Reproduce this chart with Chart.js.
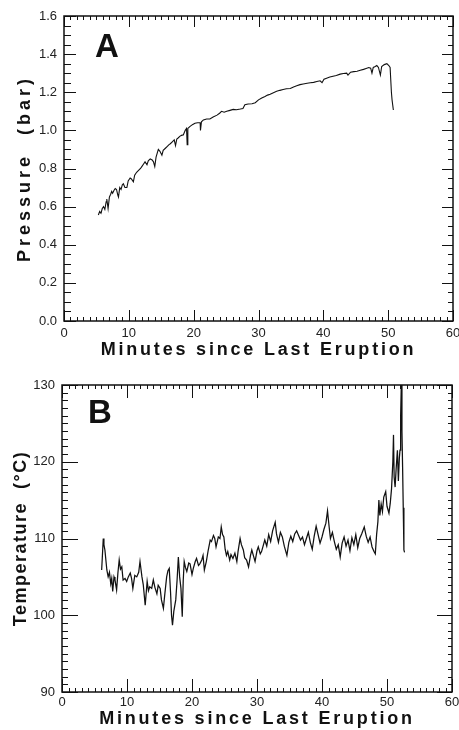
<!DOCTYPE html>
<html>
<head>
<meta charset="utf-8">
<script src="https://cdn.jsdelivr.net/npm/chart.js@4.4.1/dist/chart.umd.min.js"></script>
<style>
  html, body { margin: 0; padding: 0; background: #fff; }
  canvas { display: block; }
</style>
</head>
<body>
<canvas id="chartA" width="459" height="365"></canvas>
<canvas id="chartB" width="459" height="365"></canvas>
<script>
// ---------- DATA ----------
const xTickLabels = [0, 10, 20, 30, 40, 50, 60];
const pressureTickLabels = [0.0, 0.2, 0.4, 0.6, 0.8, 1.0, 1.2, 1.4, 1.6];
const temperatureTickLabels = [90, 100, 110, 120, 130];

const pressureMinutes = [
  5.3, 5.5, 5.7, 5.9, 6.1, 6.3, 6.5, 6.6, 6.8, 7.0, 7.2, 7.35, 7.5, 7.7, 7.9, 8.1, 8.3, 8.4, 8.6, 8.8,
  9.0, 9.15, 9.4, 9.7, 9.9, 10.2, 10.4, 10.7, 10.9, 11.2, 11.5, 11.8, 12.0, 12.3, 12.5, 12.8, 13.0, 13.3, 13.6, 13.8,
  14.0, 14.2, 14.55, 14.8, 15.1, 15.3, 15.6, 15.9, 16.2, 16.4, 16.7, 17.0, 17.2, 17.4, 17.6, 17.9, 18.2, 18.4, 18.7, 18.9,
  19.0, 19.1, 19.4, 19.8, 20.2, 20.6, 21.0, 21.05, 21.2, 21.5, 22.0, 22.5, 23.0, 23.6, 24.0, 24.3, 24.7, 25.1, 25.6, 26.1,
  26.6, 27.2, 27.6, 27.9, 28.4, 29.0, 29.5, 30.0, 30.5, 31.0, 31.4, 31.8, 32.3, 32.8, 33.3, 33.8, 34.3, 34.9, 35.4, 35.9,
  36.4, 36.9, 37.5, 38.0, 38.5, 39.0, 39.5, 39.8, 40.1, 40.5, 41.0, 41.5, 42.0, 42.6, 43.1, 43.6, 43.8, 44.2, 44.7, 45.2,
  45.7, 46.2, 46.6, 47.0, 47.3, 47.5, 47.7, 48.0, 48.25, 48.5, 48.8, 49.0, 49.4, 49.8, 50.1, 50.3, 50.5, 50.6, 50.8
];
const pressureBar = [
  0.556, 0.575, 0.565, 0.59, 0.60, 0.585, 0.625, 0.64, 0.59, 0.65, 0.665, 0.68, 0.67, 0.685, 0.695, 0.69, 0.66, 0.65, 0.70, 0.69,
  0.715, 0.72, 0.70, 0.70, 0.735, 0.75, 0.745, 0.73, 0.765, 0.78, 0.79, 0.80, 0.81, 0.825, 0.835, 0.82, 0.84, 0.85, 0.845, 0.835,
  0.81, 0.86, 0.90, 0.89, 0.87, 0.895, 0.905, 0.915, 0.925, 0.93, 0.94, 0.95, 0.92, 0.955, 0.96, 0.97, 0.975, 0.976, 1.00, 1.01,
  0.925, 1.01, 1.02, 1.03, 1.037, 1.04, 1.04, 1.00, 1.045, 1.055, 1.06, 1.06, 1.07, 1.08, 1.09, 1.10, 1.095, 1.10, 1.105, 1.11,
  1.108, 1.112, 1.115, 1.135, 1.138, 1.14, 1.145, 1.16, 1.17, 1.178, 1.185, 1.19, 1.198, 1.205, 1.21, 1.214, 1.218, 1.22, 1.228, 1.234,
  1.24, 1.243, 1.247, 1.25, 1.252, 1.256, 1.26, 1.25, 1.268, 1.274, 1.28, 1.284, 1.288, 1.295, 1.298, 1.30, 1.29, 1.305, 1.308, 1.31,
  1.315, 1.32, 1.325, 1.33, 1.326, 1.30, 1.33, 1.335, 1.34, 1.33, 1.29, 1.335, 1.345, 1.35, 1.34, 1.33, 1.20, 1.16, 1.107
];

const temperatureMinutes = [
  6.1, 6.2, 6.35, 6.45, 6.6, 6.9, 7.1, 7.3, 7.5, 7.65, 7.8, 8.0, 8.15, 8.4, 8.6, 8.8, 9.0, 9.2, 9.4, 9.7,
  9.95, 10.2, 10.5, 10.7, 10.9, 11.2, 11.5, 11.8, 12.0, 12.3, 12.5, 12.8, 13.1, 13.3, 13.5, 13.8, 14.05, 14.3, 14.6, 14.8,
  15.1, 15.3, 15.6, 15.8, 16.1, 16.3, 16.5, 16.7, 16.85, 17.0, 17.2, 17.5, 17.7, 17.9, 18.1, 18.3, 18.5, 18.65, 18.8, 19.0,
  19.2, 19.5, 19.7, 20.0, 20.2, 20.5, 20.7, 21.0, 21.2, 21.5, 21.7, 21.9, 22.2, 22.5, 22.8, 23.0, 23.3, 23.5, 23.7, 24.05,
  24.3, 24.5, 24.7, 24.9, 25.1, 25.3, 25.5, 25.8, 26.0, 26.3, 26.6, 26.9, 27.1, 27.4, 27.6, 27.9, 28.1, 28.4, 28.7, 29.0,
  29.2, 29.5, 29.7, 30.0, 30.2, 30.5, 30.7, 31.0, 31.2, 31.5, 31.8, 32.1, 32.4, 32.8, 33.0, 33.3, 33.6, 33.9, 34.2, 34.6,
  34.9, 35.2, 35.5, 35.8, 36.1, 36.4, 36.7, 37.0, 37.3, 37.6, 37.9, 38.2, 38.5, 38.8, 39.1, 39.4, 39.7, 40.0, 40.3, 40.6,
  40.85, 41.1, 41.3, 41.6, 41.9, 42.2, 42.5, 42.8, 43.1, 43.4, 43.7, 44.0, 44.3, 44.6, 44.9, 45.2, 45.5, 45.8, 46.1, 46.5,
  46.8, 47.1, 47.4, 47.7, 48.0, 48.2, 48.4, 48.6, 48.75, 48.9, 49.1, 49.3, 49.5, 49.8, 50.0, 50.3, 50.5, 50.7, 50.9, 51.0,
  51.1, 51.25, 51.4, 51.6, 51.75, 51.9, 52.0, 52.1, 52.2, 52.3, 52.4, 52.5, 52.6, 52.7
];
const temperatureC = [
  105.9, 107.5, 110.0, 109.2, 108.5, 105.9, 105.0, 105.6, 104.1, 104.8, 103.1, 105.0, 104.6, 103.3, 105.5, 107.2, 106.0, 106.3, 104.6, 104.8,
  104.4, 105.0, 105.5, 104.8, 103.5, 105.2, 105.0, 105.6, 107.0, 105.0, 104.0, 101.3, 104.4, 103.2, 103.7, 103.5, 104.6, 103.6, 102.8, 103.9,
  103.5, 102.0, 100.9, 102.6, 105.0, 105.8, 106.1, 103.0, 100.0, 98.7, 100.5, 102.0, 104.5, 107.6, 105.0, 103.5, 99.8, 104.5, 107.0, 106.2,
  105.7, 106.8, 106.7, 105.3, 106.1, 107.0, 107.4, 106.5, 106.7, 107.2, 107.8, 105.9, 107.0, 108.5, 109.8, 109.6, 110.4, 110.0, 108.9, 110.2,
  110.0, 111.5, 110.5, 110.2, 108.6, 107.8, 108.3, 107.2, 107.9, 107.4, 108.1, 107.0, 108.4, 110.0, 109.2, 108.5, 107.5, 107.2, 106.3, 107.8,
  108.5, 107.6, 107.0, 108.4, 108.9, 108.0, 108.3, 109.2, 109.8, 109.0, 110.5, 109.6, 111.0, 112.1, 110.6, 109.5, 110.8, 110.2, 109.0, 107.8,
  109.5, 110.3, 109.6, 110.6, 111.0, 110.4, 109.8, 110.2, 109.2, 110.0, 110.8, 109.5, 108.6, 110.3, 111.6, 110.5, 109.4, 110.2, 111.2, 112.0,
  113.6, 111.5, 110.0, 110.8, 109.6, 108.6, 109.2, 107.6, 109.4, 110.2, 109.0, 109.8, 108.4, 110.1, 109.2, 110.5, 108.8, 110.0, 110.6, 111.5,
  110.3, 109.5, 110.2, 108.9, 108.3, 108.0, 110.5, 112.2, 115.0, 113.0, 114.5, 113.5, 115.4, 116.1, 114.2, 113.3, 114.6, 116.5, 120.0, 123.5,
  118.0, 116.7, 119.0, 121.5, 117.5, 120.5, 121.5, 126.0, 130.0, 124.0, 119.3, 114.0, 108.5, 108.2
];

// ---------- STYLE / PLUGIN ----------
const FONT = '"Liberation Sans", Arial, Helvetica, sans-serif';

const framePlugin = {
  id: 'frameTicks',
  beforeDraw(chart, args, opts) {
    // letter spacing for axis titles
    Object.values(chart.scales).forEach(s => {
      if (!s._lsPatched) {
        const orig = s.drawTitle;
        const sp = (opts.titleSpacing || {})[s.id] || '0px';
        s.drawTitle = function () {
          const c = this.ctx;
          c.save();
          c.letterSpacing = sp;
          orig.apply(this, arguments);
          c.restore();
        };
        s._lsPatched = true;
      }
    });
  },
  afterDatasetsDraw(chart, args, opts) {
    const {ctx, chartArea: {left, right, top, bottom}, scales: {x, y}} = chart;
    ctx.save();
    ctx.strokeStyle = '#111';
    ctx.lineWidth = 1;
    const seg = (x1, y1, x2, y2) => { ctx.beginPath(); ctx.moveTo(x1, y1); ctx.lineTo(x2, y2); ctx.stroke(); };
    // x ticks (bottom and top, pointing inward)
    let n = Math.round((x.max - x.min) / opts.xMinor);
    let ratio = Math.round(opts.xMajor / opts.xMinor);
    for (let i = 0; i <= n; i++) {
      const px = Math.round(x.getPixelForValue(x.min + i * opts.xMinor)) + 0.5;
      const len = (i % ratio === 0) ? opts.xMajorLen : opts.xMinorLen;
      seg(px, bottom, px, bottom - len);
      seg(px, top, px, top + len);
    }
    // y ticks (left and right, pointing inward)
    n = Math.round((y.max - y.min) / opts.yMinor);
    ratio = Math.round(opts.yMajor / opts.yMinor);
    for (let i = 0; i <= n; i++) {
      const py = Math.round(y.getPixelForValue(y.min + i * opts.yMinor)) + 0.5;
      const major = (i % ratio === 0);
      seg(left, py, left + (major ? opts.yMajorLen : opts.yMinorLen), py);
      seg(right, py, right - (major ? opts.yMajorLen - 1 : opts.yMinorLen - 2), py);
    }
    // frame
    ctx.lineWidth = 1.5;
    ctx.strokeRect(left, top, right - left, bottom - top);
    // panel letter
    ctx.fillStyle = '#111';
    ctx.font = 'bold 33px ' + FONT;
    ctx.textAlign = 'left';
    ctx.textBaseline = 'alphabetic';
    ctx.fillText(opts.letter, left + opts.letterDx, top + opts.letterDy);
    ctx.restore();
  }
};

function makeChart(id, cfg) {
  const fixAxis = (w, h) => s => {
    if (w !== null) s.width = w;
    if (h !== null) s.height = h;
    s.paddingLeft = 0; s.paddingRight = 0; s.paddingTop = 0; s.paddingBottom = 0;
  };
  return new Chart(document.getElementById(id), {
    type: 'line',
    data: {
      datasets: [{
        data: cfg.xs.map((m, i) => ({x: m, y: cfg.ys[i]})),
        borderColor: '#111',
        borderWidth: cfg.lineWidth,
        pointRadius: 0,
        tension: 0,
        fill: false
      }]
    },
    options: {
      responsive: false,
      animation: false,
      devicePixelRatio: 1,
      layout: {padding: cfg.padding},
      plugins: {
        legend: {display: false},
        tooltip: {enabled: false},
        frameTicks: cfg.frame
      },
      scales: {
        x: {
          type: 'linear',
          min: xTickLabels[0],
          max: xTickLabels[xTickLabels.length - 1],
          afterBuildTicks: s => { s.ticks = xTickLabels.map(v => ({value: v})); },
          grid: {display: false, drawTicks: false},
          border: {display: false},
          ticks: {
            color: '#222',
            padding: cfg.xTickPad,
            maxRotation: 0,
            font: {family: FONT, size: 13},
            callback: v => String(v)
          },
          title: {
            display: true,
            text: 'Minutes since Last Eruption',
            color: '#111',
            font: {family: FONT, size: 18, weight: 'bold', lineHeight: 1.2},
            padding: {top: 0, bottom: cfg.xTitlePad}
          },
          afterFit: fixAxis(null, cfg.xHeight)
        },
        y: {
          type: 'linear',
          min: cfg.yTicks[0],
          max: cfg.yTicks[cfg.yTicks.length - 1],
          afterBuildTicks: s => { s.ticks = cfg.yTicks.map(v => ({value: v})); },
          grid: {display: false, drawTicks: false},
          border: {display: false},
          ticks: {
            color: '#222',
            padding: 7,
            font: {family: FONT, size: 13},
            callback: cfg.yFormat
          },
          title: {
            display: true,
            text: cfg.yTitle,
            color: '#111',
            font: {family: FONT, size: 18, weight: 'bold', lineHeight: 1.2},
            padding: {top: cfg.yTitlePad, bottom: 0}
          },
          afterFit: fixAxis(cfg.yWidth, null)
        }
      }
    },
    plugins: [framePlugin]
  });
}

makeChart('chartA', {
  xs: pressureMinutes,
  ys: pressureBar,
  yTicks: pressureTickLabels,
  yFormat: v => Number(v).toFixed(1),
  yTitle: 'Pressure  (bar)',
  padding: {top: 16, right: 6, left: 0, bottom: 0},
  yWidth: 64,
  xHeight: 44,
  xTickPad: 5,
  xTitlePad: 4,
  yTitlePad: 14,
  lineWidth: 1.1,
  frame: {
    xMinor: 1, xMajor: 10, xMinorLen: 4, xMajorLen: 11,
    yMinor: 0.05, yMajor: 0.2, yMinorLen: 7, yMajorLen: 12,
    letter: 'A', letterDx: 31, letterDy: 41,
    titleSpacing: {x: '2.8px', y: '4px'}
  }
});

makeChart('chartB', {
  xs: temperatureMinutes,
  ys: temperatureC,
  yTicks: temperatureTickLabels,
  yFormat: v => String(v),
  yTitle: 'Temperature  (°C)',
  padding: {top: 20, right: 7, left: 0, bottom: 0},
  yWidth: 62,
  xHeight: 38,
  xTickPad: 3,
  xTitlePad: 0,
  yTitlePad: 10,
  lineWidth: 1.25,
  frame: {
    xMinor: 1, xMajor: 10, xMinorLen: 4, xMajorLen: 13,
    yMinor: 1, yMajor: 10, yMinorLen: 6, yMajorLen: 16,
    letter: 'B', letterDx: 26, letterDy: 38,
    titleSpacing: {x: '2.8px', y: '1.5px'}
  }
});
</script>
</body>
</html>
